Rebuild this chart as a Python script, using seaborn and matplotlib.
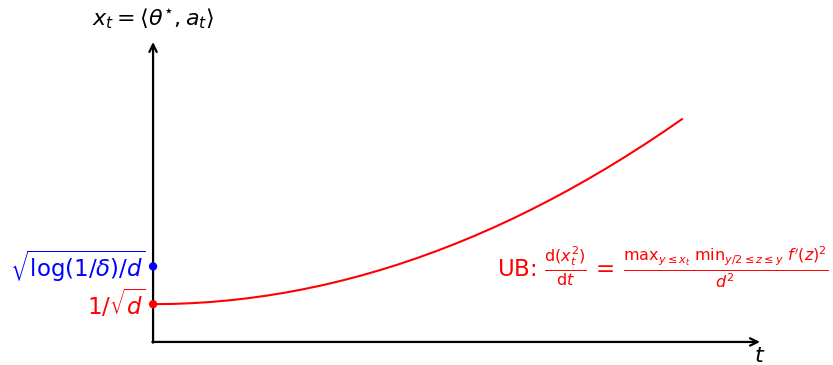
import matplotlib
matplotlib.use("Agg")
import matplotlib.pyplot as plt
import seaborn as sns
import pandas as pd

# Trajectory of x_t over time (upper-bound curve)
t_vals = [0, 0.5, 1, 1.5, 2, 2.5, 3, 3.5, 4, 4.5, 5, 5.5, 6, 6.5, 7, 7.5, 8, 8.5,
          9, 9.5, 10, 10.5, 11, 11.5, 12, 12.5, 13, 13.5, 14]
x_vals = [1.0, 1.006, 1.025, 1.056, 1.1, 1.156, 1.225, 1.306, 1.4, 1.506, 1.625,
          1.756, 1.9, 2.056, 2.225, 2.406, 2.6, 2.806, 3.025, 3.256, 3.5, 3.756,
          4.025, 4.306, 4.6, 4.906, 5.225, 5.556, 5.9]

# Marked levels on the vertical axis
level_names = ["low", "high"]
level_values = [1.0, 2.0]
level_colors = ["red", "blue"]
level_labels = [r"$1/\sqrt{d}$", r"$\sqrt{\log(1/\delta)/d}$"]

curve = pd.DataFrame({"t": t_vals, "x": x_vals})
levels = pd.DataFrame({"t": [0.0] * len(level_values), "x": level_values, "name": level_names})

sns.set_theme(style="white")
plt.rcParams["font.family"] = ["DejaVu Sans"]
plt.rcParams["mathtext.fontset"] = "dejavusans"

fig = plt.figure(figsize=(8.33, 3.65), dpi=100)
ax = fig.add_axes([0, 0, 1, 1])
ax.set_xlim(-4.05, 17.99)
ax.set_ylim(-0.61, 9.05)
ax.axis("off")

x_end, y_end = 16.06, 7.94
arrow = dict(arrowstyle="->,head_length=0.45,head_width=0.22", lw=1.6, color="black",
             shrinkA=0, shrinkB=0)
ax.annotate("", xy=(x_end, 0), xytext=(-0.02, 0), arrowprops=arrow)
ax.annotate("", xy=(0, y_end), xytext=(0, -0.02), arrowprops=arrow)

sns.lineplot(data=curve, x="t", y="x", ax=ax, color="red", lw=1.5, legend=False, zorder=3)
sns.scatterplot(data=levels, x="t", y="x", hue="name", palette=dict(zip(level_names, level_colors)),
                s=36, edgecolor="none", ax=ax, legend=False, zorder=4)

for val, col, lab in zip(level_values, level_colors, level_labels):
    ax.text(-0.2, val, lab, color=col, fontsize=16.5, ha="right", va="center")

ax.text(0, 8.55, r"$x_t = \langle\theta^{\star}, a_t\rangle$", fontsize=16,
        ha="center", va="center", color="black")
ax.text(x_end, -0.37, r"$t$", fontsize=16, ha="center", va="center", color="black")

ax.text(9.1, 1.98,
        r"UB: $\frac{\mathrm{d}(x_t^2)}{\mathrm{d}t}\,=\,"
        r"\frac{\mathrm{max}_{y\leq x_t}\ \mathrm{min}_{y/2\leq z\leq y}\ f^{\prime}(z)^2}{d^2}$",
        fontsize=16.5, color="red", ha="left", va="center")

ax.set_xlabel("")
ax.set_ylabel("")
fig.savefig("out.png", dpi=100)
